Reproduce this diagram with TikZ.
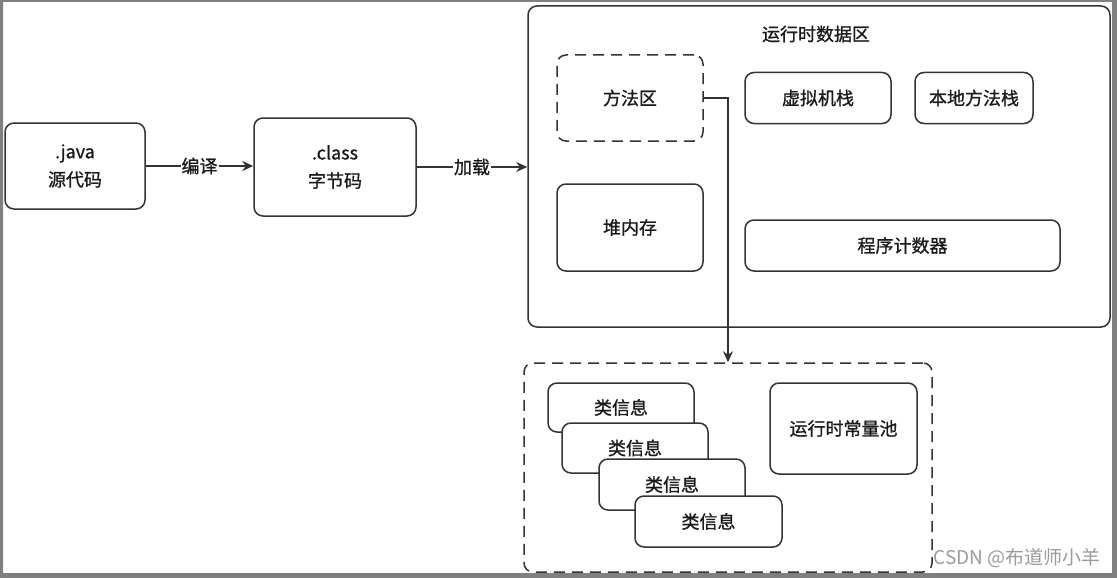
\documentclass[tikz,border=0pt]{standalone}
\usepackage{fontspec}
\setmainfont{Noto Sans CJK SC}[FakeBold=0.9]
\newfontfamily\wmfont{Noto Sans CJK SC}
\usetikzlibrary{arrows.meta}
\definecolor{linec}{HTML}{333333}
\definecolor{txtc}{HTML}{1A1A1A}
\definecolor{framec}{HTML}{808080}
\definecolor{wmc}{HTML}{9A9A9A}
\tikzset{
  x=1pt, y=-1pt,
  box/.style={draw=linec, line width=1.5pt, rounded corners=9pt, fill=white,
              align=center, text=txtc, font=\fontsize{18}{28}\selectfont, inner sep=0pt},
  dbox/.style={box, dash pattern=on 11pt off 7pt},
  conn/.style={draw=linec, line width=1.4pt, -{Stealth[length=11pt,width=10pt]}},
  lbl/.style={fill=white, inner sep=1pt, text=txtc, font=\fontsize{18}{22}\selectfont},
}
\begin{document}
\begin{tikzpicture}
\useasboundingbox (0,0) rectangle (1117,578);
% outer frame
\fill[framec, even odd rule] (0,0) rectangle (1117,578) (3,2) rectangle (1112,573);

% left chain
\node[box, minimum width=140pt, minimum height=86pt] (java) at (75,166) {.java\\源代码};
\node[box, minimum width=162pt, minimum height=98pt] (cls) at (335,167) {.class\\字节码};

% runtime data area
\node[box, minimum width=582pt, minimum height=321pt] (rt) at (819,166.5) {};
\node[text=txtc, font=\fontsize{18}{22}\selectfont, inner sep=0pt] (rttitle) at (816,34) {运行时数据区};
\node[dbox, minimum width=146pt, minimum height=86pt] (ff) at (630,98) {方法区};
\node[box, minimum width=146pt, minimum height=51pt] (vms) at (818,98) {虚拟机栈};
\node[box, minimum width=118pt, minimum height=51pt] (nms) at (974,98) {本地方法栈};
\node[box, minimum width=146pt, minimum height=87pt] (heap) at (630,227.5) {堆内存};
\node[box, minimum width=315pt, minimum height=51pt] (pc) at (902.5,245.5) {程序计数器};

% method area detail
\node[dbox, minimum width=408pt, minimum height=209pt] (mfq) at (728,467.5) {};
\node[box, minimum width=146pt, minimum height=49pt] (c1) at (621,407.5) {类信息};
\node[box, minimum width=146pt, minimum height=50pt] (c2) at (635,448) {类信息};
\node[box, minimum width=146pt, minimum height=51pt] (c3) at (672,484.5) {类信息};
\node[box, minimum width=147pt, minimum height=51pt] (c4) at (708.5,521.5) {类信息};
\node[box, minimum width=147pt, minimum height=91pt] (pool) at (843.5,428.5) {运行时常量池};

% connectors
\draw[conn] (java.east) -- (java.east -| cls.west) node[lbl, midway] {编译};
\draw[conn] (cls.east) -- (cls.east -| rt.west) node[lbl, midway] {加载};
\draw[conn] (ff.east) -| (mfq.north);

% watermark
\node[text=wmc, font=\wmfont\fontsize{19}{22}\selectfont, inner sep=0pt, anchor=east] (wm) at (1101,558) {CSDN @布道师小羊};
\end{tikzpicture}
\end{document}
